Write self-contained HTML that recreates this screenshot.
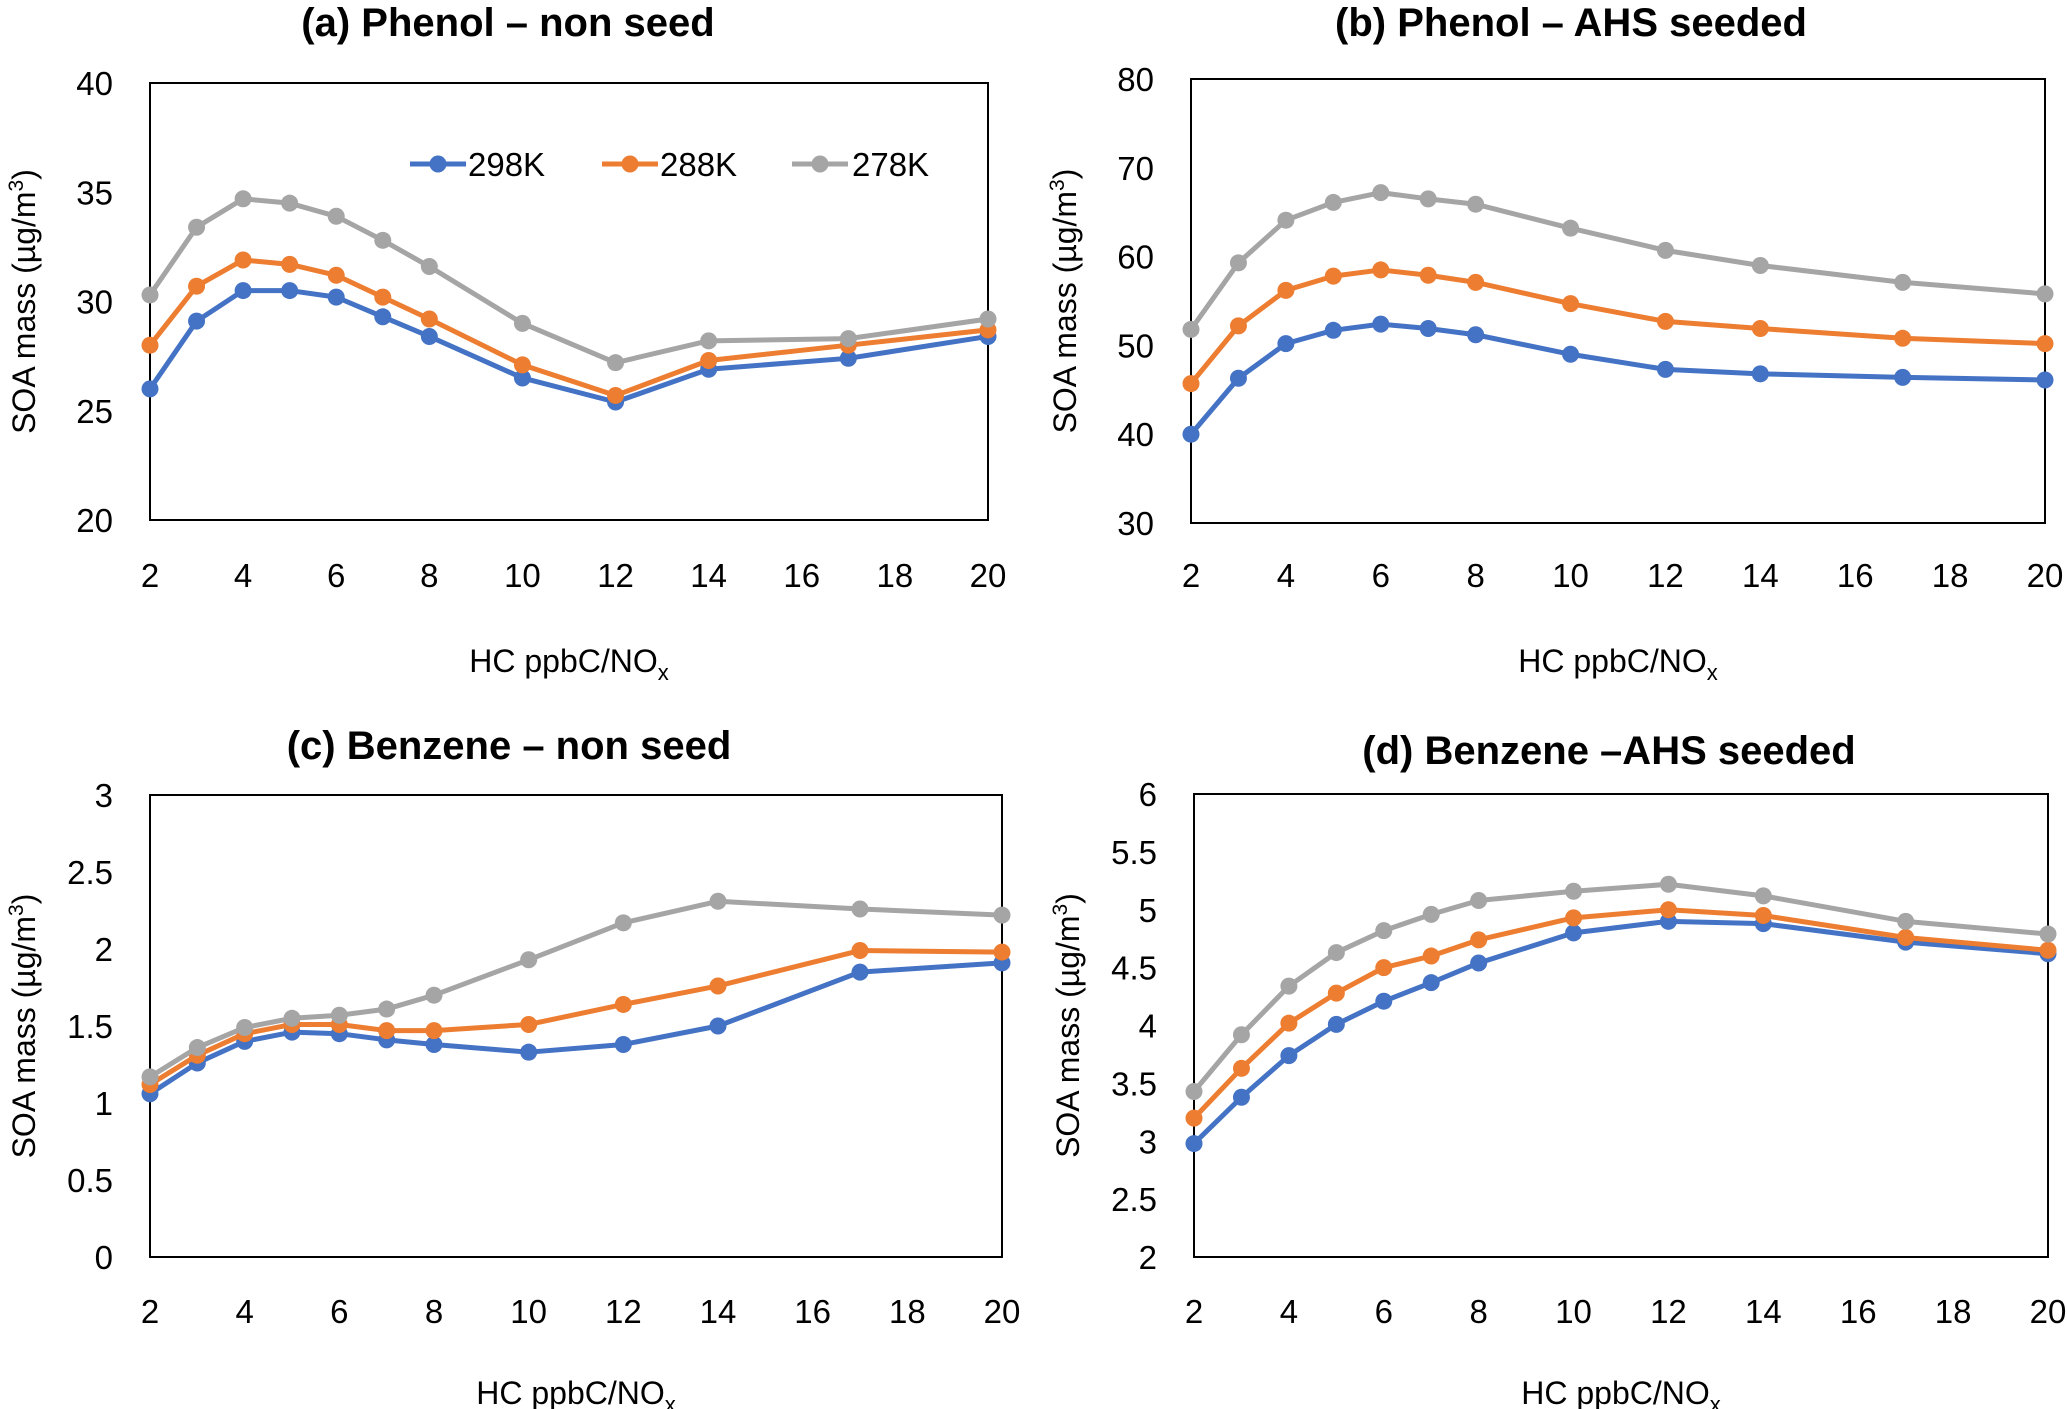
<!DOCTYPE html>
<html><head><meta charset="utf-8">
<style>
html,body{margin:0;padding:0;background:#fff;}
svg{display:block;}
text{font-family:"Liberation Sans",sans-serif;fill:#000;}
</style></head>
<body>
<svg id="fig" width="2067" height="1409" viewBox="0 0 2067 1409" xmlns="http://www.w3.org/2000/svg"></svg>
<script>
const xCats = [2,3,4,5,6,7,8,10,12,14,17,20];
const xTicks = [2,4,6,8,10,12,14,16,18,20];
const seriesNames = ["298K","288K","278K"];
const colors = ["#4472c4","#ed7d31","#a5a5a5"];
const aT298 = [26,29.1,30.5,30.5,30.2,29.3,28.4,26.5,25.4,26.9,27.4,28.4];
const aT288 = [28,30.7,31.9,31.7,31.2,30.2,29.2,27.1,25.7,27.3,28.0,28.7];
const aT278 = [30.3,33.4,34.7,34.5,33.9,32.8,31.6,29.0,27.2,28.2,28.3,29.2];
const bT298 = [40,46.3,50.2,51.7,52.4,51.9,51.2,49,47.3,46.8,46.4,46.1];
const bT288 = [45.7,52.2,56.2,57.8,58.5,57.9,57.1,54.7,52.7,51.9,50.8,50.2];
const bT278 = [51.8,59.3,64.1,66.1,67.2,66.5,65.9,63.2,60.7,59,57.1,55.8];
const cT298 = [1.06,1.26,1.40,1.46,1.45,1.41,1.38,1.33,1.38,1.50,1.85,1.91];
const cT288 = [1.12,1.31,1.45,1.51,1.51,1.47,1.47,1.51,1.64,1.76,1.99,1.98];
const cT278 = [1.17,1.36,1.49,1.55,1.57,1.61,1.70,1.93,2.17,2.31,2.26,2.22];
const dT298 = [2.98,3.38,3.74,4.01,4.21,4.37,4.54,4.80,4.90,4.88,4.72,4.62];
const dT288 = [3.20,3.63,4.02,4.28,4.50,4.60,4.74,4.93,5.0,4.95,4.76,4.65];
const dT278 = [3.43,3.92,4.34,4.63,4.82,4.96,5.08,5.16,5.22,5.12,4.90,4.79];
const aYTicks = ["20","25","30","35","40"];
const bYTicks = ["30","40","50","60","70","80"];
const cYTicks = ["0","0.5","1","1.5","2","2.5","3"];
const dYTicks = ["2","2.5","3","3.5","4","4.5","5","5.5","6"];

const NS="http://www.w3.org/2000/svg";
const svg=document.getElementById('fig');
function mk(tag,attrs,parent){const e=document.createElementNS(NS,tag);for(const k in attrs)e.setAttribute(k,attrs[k]);(parent||svg).appendChild(e);return e;}

const panels=[
 {id:'a',title:'(a) Phenol \u2013 non seed',L:150,R:988,T:83,B:520,tx:508,ty:36,data:[aT298,aT288,aT278],yt:aYTicks,xlabY:587,xtY:672,legend:true},
 {id:'b',title:'(b) Phenol \u2013 AHS seeded',L:1191,R:2045,T:79,B:523,tx:1571,ty:36,data:[bT298,bT288,bT278],yt:bYTicks,xlabY:587,xtY:672},
 {id:'c',title:'(c) Benzene \u2013 non seed',L:150,R:1002,T:795,B:1257,tx:509,ty:759,data:[cT298,cT288,cT278],yt:cYTicks,xlabY:1323,xtY:1404},
 {id:'d',title:'(d) Benzene \u2013AHS seeded',L:1194,R:2048,T:794,B:1257,tx:1609,ty:764,data:[dT298,dT288,dT278],yt:dYTicks,xlabY:1323,xtY:1404}
];

panels.forEach(p=>{
 const g=mk('g',{});
 
 
 const ymin=parseFloat(p.yt[0]), ymax=parseFloat(p.yt[p.yt.length-1]);
 const xs=v=>p.L+(v-2)/(20-2)*(p.R-p.L);
 const ys=v=>p.B-(v-ymin)/(ymax-ymin)*(p.B-p.T);
 const t=mk('text',{x:p.tx,y:p.ty,'text-anchor':'middle','font-size':40,'font-weight':'bold'},g);
 t.textContent=p.title;
 
 
 const fr=mk('rect',{x:p.L,y:p.T,width:p.R-p.L,height:p.B-p.T,fill:'none',stroke:'#000','stroke-width':2},g);
 
 
 p.yt.forEach(s=>{
  const e=mk('text',{x:p.L-37,y:ys(parseFloat(s))+12,'text-anchor':'end','font-size':33},g);
  e.textContent=s;
  
  
 });
 xTicks.forEach(v=>{
  const e=mk('text',{x:xs(v),y:p.xlabY,'text-anchor':'middle','font-size':33},g);
  e.textContent=v;
  
  
 });
 const xt=mk('text',{x:(p.L+p.R)/2,y:p.xtY,'text-anchor':'middle','font-size':32},g);
 xt.innerHTML='HC ppbC/NO<tspan font-size="22" dy="8">x</tspan>';
 
 
 const yc=(p.T+p.B)/2, yx=p.L-115;
 const yt=mk('text',{x:yx,y:yc,'text-anchor':'middle','font-size':32,transform:`rotate(-90 ${yx} ${yc})`},g);
 yt.innerHTML='SOA mass (\u00b5g/m<tspan font-size="21" dy="-12">3</tspan><tspan dy="12">)</tspan>';
 
 
 p.data.forEach((arr,si)=>{
  const sg=mk('g',{},g);
  
  
  const pts=arr.map((v,i)=>xs(xCats[i])+','+ys(v)).join(' ');
  const pl=mk('polyline',{points:pts,fill:'none',stroke:colors[si],'stroke-width':5,'stroke-linejoin':'round'},sg);
  
  
  arr.forEach((v,i)=>{
   const c=mk('circle',{cx:xs(xCats[i]),cy:ys(v),r:8.5,fill:colors[si]},sg);
   
   
  });
 });
 if(p.legend){
  const lx=[410,602,792], tx=[468,660,852];
  seriesNames.forEach((n,si)=>{
   const lg=mk('g',{},g);
   
   
   mk('line',{x1:lx[si],y1:164,x2:lx[si]+56,y2:164,stroke:colors[si],'stroke-width':5},lg);
   mk('circle',{cx:lx[si]+28,cy:164,r:8.5,fill:colors[si]},lg);
   const tt=mk('text',{x:tx[si],y:176,'font-size':33},lg);
   tt.textContent=n;
  });
 }
});
</script>
</body></html>
